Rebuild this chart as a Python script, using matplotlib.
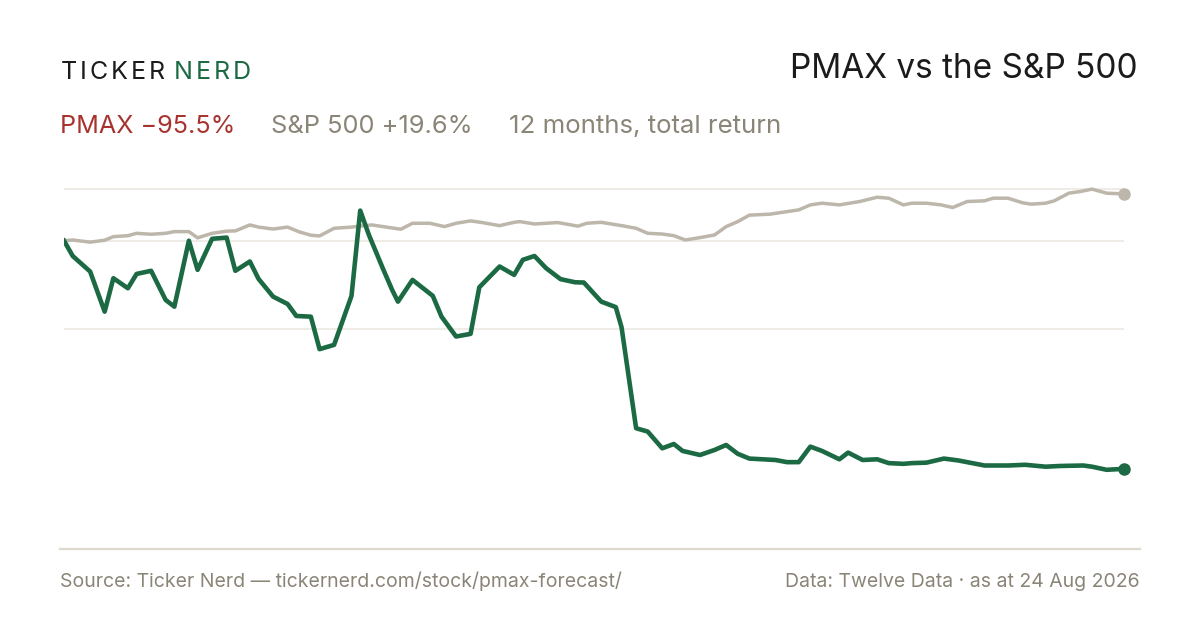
import matplotlib
matplotlib.use("Agg")
import matplotlib.pyplot as plt

# jours depuis le début de la période, rendement total en %
pmax_jours = [0, 3, 9, 14, 17, 22, 25, 30, 35, 38, 43, 46, 51, 56, 59, 64, 67, 72, 77, 80,
              85, 88, 93, 99, 102, 105, 110, 113, 115, 120, 127, 130, 135, 140, 143, 150,
              155, 158, 162, 166, 171, 176, 179, 185, 190, 192, 197, 201, 206, 210, 213,
              219, 224, 228, 232, 236, 245, 249, 253, 257, 261, 267, 270, 275, 280, 284,
              289, 292, 297, 303, 308, 317, 325, 331, 338, 343, 351, 354, 359, 365]
pmax_rendement = [0.0, -6.4, -12.9, -29.7, -15.7, -19.9, -13.9, -12.6, -24.8, -27.6, 0.0,
                  -12.2, 0.8, 1.3, -12.6, -8.7, -16.0, -23.4, -26.5, -31.5, -31.8, -45.4,
                  -43.6, -23.1, 12.6, 2.4, -12.2, -20.6, -25.5, -16.4, -23.1, -31.8, -40.1,
                  -39.0, -19.5, -10.8, -14.3, -8.0, -6.4, -11.5, -16.1, -17.4, -17.5, -25.5,
                  -27.8, -36.3, -78.5, -79.9, -86.9, -85.1, -88.0, -89.7, -87.6, -85.5,
                  -89.2, -91.2, -91.8, -92.7, -92.7, -86.2, -88.0, -91.5, -88.7, -91.8,
                  -91.5, -93.1, -93.4, -93.1, -92.9, -91.2, -92.0, -94.1, -94.1, -93.8,
                  -94.6, -94.3, -94.1, -94.6, -95.9, -95.5]

spx_jours = [0, 3, 9, 14, 17, 22, 25, 30, 35, 38, 43, 46, 51, 56, 59, 64, 67, 72, 77, 81,
             85, 88, 93, 99, 106, 111, 116, 120, 126, 131, 135, 140, 144, 150, 155, 157,
             162, 170, 177, 180, 185, 193, 197, 201, 206, 210, 214, 219, 224, 228, 232,
             236, 243, 253, 257, 261, 267, 274, 280, 284, 289, 292, 297, 302, 306, 311,
             317, 320, 325, 330, 333, 338, 341, 346, 350, 354, 359, 365]
spx_rendement = [0.0, 0.3, -0.6, 0.2, 1.7, 2.1, 3.1, 2.7, 3.1, 3.8, 3.8, 1.2, 3.1, 4.0, 4.1,
                 6.6, 5.7, 4.9, 5.7, 3.7, 2.3, 2.0, 5.2, 5.7, 6.6, 5.7, 4.8, 7.3, 7.3, 5.9,
                 7.3, 8.3, 7.6, 6.3, 7.7, 8.0, 7.0, 7.6, 6.1, 7.3, 7.7, 6.1, 5.2, 3.1, 2.8,
                 2.1, 0.3, 1.3, 2.4, 5.9, 8.0, 10.7, 11.1, 12.9, 15.0, 15.7, 15.0, 16.4,
                 18.2, 17.8, 15.0, 15.7, 15.7, 15.0, 13.9, 16.4, 16.7, 17.8, 17.8, 15.9,
                 15.3, 15.7, 16.7, 19.9, 20.6, 21.6, 19.9, 19.6]

titre = "PMAX vs the S&P 500"
source = "Source: Ticker Nerd \u2014 tickernerd.com/stock/pmax-forecast/"
donnees = "Data: Twelve Data \u00b7 as at 24 Aug 2026"

VERT = "#1c6a44"
GRIS_LIGNE = "#bdb6ab"
GRIS_TEXTE = "#8a8577"
ROUGE = "#a8322d"
NOIR = "#1b1b1b"
GRILLE = "#ece9e3"

plt.rcParams['font.family'] = ['Inter', 'DejaVu Sans']

L, H = 1200, 630
fig = plt.figure(figsize=(L / 100, H / 100), dpi=100)
fig.patch.set_facecolor("white")
renderer = fig.canvas.get_renderer()


def fy(y):
    return 1 - y / H


def texte_espace(x, y, s, couleur, taille, espacement):
    # texte avec approche de lettres, renvoie la position x de fin (pixels)
    for c in s:
        t = fig.text(x / L, fy(y), c, color=couleur, fontsize=taille, va="baseline", ha="left")
        bb = t.get_window_extent(renderer=renderer)
        x += bb.width + espacement
    return x - espacement


# zone du graphique : pixels 64..1124 en x, 170..530 en y
ax = fig.add_axes([64 / L, fy(530), 1060 / L, 360 / H])
ax.set_xlim(0, 365)
ax.set_ylim(-121.1, 29.6)
ax.axis("off")

haut = max(max(pmax_rendement), max(spx_rendement))
bas = min(min(pmax_rendement), min(spx_rendement))
for niveau in [haut, 0, (haut + bas) / 2]:
    ax.axhline(niveau, color=GRILLE, lw=1.2, zorder=1)

ax.plot(spx_jours, spx_rendement, color=GRIS_LIGNE, lw=2.5, solid_joinstyle="round", zorder=2)
ax.plot(pmax_jours, pmax_rendement, color=VERT, lw=3.3, solid_joinstyle="round", zorder=3)
ax.plot(spx_jours[-1], spx_rendement[-1], "o", color=GRIS_LIGNE, ms=8, clip_on=False, zorder=4)
ax.plot(pmax_jours[-1], pmax_rendement[-1], "o", color=VERT, ms=8, clip_on=False, zorder=4)

# en-tête
fin = texte_espace(61, 79.3, "TICKER", NOIR, 18, 2.9)
texte_espace(fin + 9, 79.3, "NERD", VERT, 18, 2.9)
fig.text(1138 / L, fy(78.3), titre, color=NOIR, fontsize=24, ha="right", va="baseline")

fig.text(60 / L, fy(132.7), "PMAX \u221295.5%", color=ROUGE, fontsize=18.1, va="baseline")
fig.text(271 / L, fy(132.7), "S&P 500 +19.6%", color=GRIS_TEXTE, fontsize=18.3, va="baseline")
fig.text(509 / L, fy(132.7), "12 months, total return", color=GRIS_TEXTE, fontsize=18.6, va="baseline")

# pied de page
fig.add_artist(plt.Line2D([60 / L, 1140 / L], [fy(549), fy(549)], color="#dedacf", lw=1.6))
fig.text(60 / L, fy(587), source, color=GRIS_TEXTE, fontsize=14, va="baseline")
fig.text(1140 / L, fy(587), donnees, color=GRIS_TEXTE, fontsize=14, va="baseline", ha="right")

fig.savefig("out.png", dpi=100, facecolor="white")
